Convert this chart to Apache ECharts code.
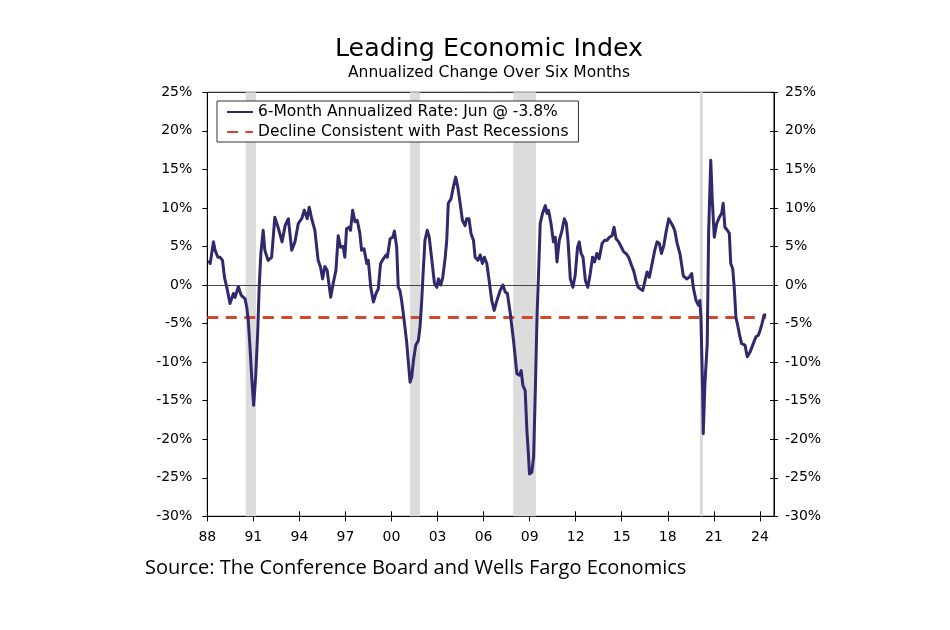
<!DOCTYPE html>
<html><head><meta charset="utf-8">
<script src="https://cdn.jsdelivr.net/npm/echarts@6/dist/echarts.min.js"></script>
<style>html,body{margin:0;padding:0;background:#fff}#c{width:950px;height:630px}</style>
</head><body><div id="c"></div>
<script>
const titleText = 'Leading Economic Index';
const subtitleText = 'Annualized Change Over Six Months';
const sourceText = 'Source: The Conference Board and Wells Fargo Economics';
const seriesNames = ['6-Month Annualized Rate: Jun @ -3.8%', 'Decline Consistent with Past Recessions'];

// decimal year of each reading
const leiDates = [
1988.08,1988.19,1988.40,1988.51,1988.69,1988.84,1988.99,1989.12,1989.27,1989.48,1989.70,1989.81,
1990.02,1990.20,1990.46,1990.57,1990.67,1990.78,1990.89,1991.02,1991.15,1991.28,1991.38,1991.49,
1991.64,1991.75,1991.96,1992.19,1992.40,1992.61,1992.87,1993.07,1993.28,1993.50,1993.71,1993.93,
1994.15,1994.32,1994.51,1994.64,1994.80,1995.01,1995.22,1995.38,1995.51,1995.66,1995.81,1996.04,
1996.20,1996.38,1996.53,1996.68,1996.85,1996.96,1997.07,1997.24,1997.33,1997.47,1997.62,1997.77,
1997.94,1998.05,1998.21,1998.39,1998.49,1998.65,1998.82,1998.99,1999.14,1999.29,1999.47,1999.65,
1999.73,1999.91,2000.08,2000.19,2000.34,2000.44,2000.55,2000.66,2000.77,2000.88,2000.99,2001.09,
2001.21,2001.32,2001.43,2001.58,2001.75,2001.86,2001.97,2002.07,2002.18,2002.33,2002.46,2002.63,
2002.80,2002.95,2003.06,2003.21,2003.34,2003.49,2003.60,2003.70,2003.88,2004.03,2004.18,2004.32,
2004.47,2004.62,2004.79,2004.90,2005.05,2005.18,2005.34,2005.45,2005.63,2005.78,2005.92,2006.05,
2006.21,2006.36,2006.53,2006.69,2006.87,2007.08,2007.26,2007.41,2007.55,2007.74,2007.95,2008.17,
2008.34,2008.45,2008.56,2008.71,2008.82,2008.92,2008.99,2009.14,2009.26,2009.37,2009.48,2009.58,
2009.69,2009.84,2010.02,2010.13,2010.23,2010.39,2010.55,2010.67,2010.78,2010.93,2011.11,2011.26,
2011.39,2011.50,2011.65,2011.82,2011.97,2012.12,2012.23,2012.35,2012.48,2012.63,2012.79,2012.95,
2013.10,2013.23,2013.38,2013.53,2013.72,2013.89,2014.04,2014.19,2014.37,2014.50,2014.63,2014.80,
2014.98,2015.13,2015.28,2015.45,2015.63,2015.77,2015.93,2016.07,2016.22,2016.37,2016.50,2016.65,
2016.80,2016.98,2017.15,2017.30,2017.45,2017.59,2017.74,2017.89,2018.06,2018.19,2018.32,2018.45,
2018.61,2018.80,2019.01,2019.23,2019.40,2019.56,2019.66,2019.84,2019.99,2020.09,2020.16,2020.27,
2020.31,2020.42,2020.57,2020.66,2020.80,2020.90,2021.03,2021.19,2021.36,2021.51,2021.61,2021.72,
2021.88,2022.01,2022.10,2022.23,2022.33,2022.44,2022.53,2022.70,2022.81,2023.03,2023.18,2023.36,
2023.57,2023.75,2023.90,2024.01,2024.14,2024.27,2024.40
];
// 6-month annualized rate, %
const leiValues = [
3.2,2.8,5.6,4.5,3.6,3.6,3.2,1.0,-0.3,-2.4,-1.1,-1.6,
-0.2,-1.3,-1.8,-2.9,-4.6,-8.0,-11.9,-15.6,-11.9,-6.3,-0.3,4.1,
7.1,4.5,3.2,3.6,8.8,7.5,5.6,7.7,8.6,4.5,5.6,8.0,
8.6,9.7,8.6,10.1,8.6,7.1,3.2,2.3,0.8,2.4,1.9,-1.6,
0.2,1.9,6.4,4.9,5.0,3.6,7.3,7.5,7.1,9.7,8.2,8.4,
6.7,4.5,4.7,2.8,3.2,-0.3,-2.2,-1.1,-0.5,2.8,3.4,3.9,
3.6,6.0,6.2,7.0,4.9,-0.3,-0.7,-2.0,-3.7,-3.9,-7.4,-9.8,
-12.6,-11.9,-9.8,-7.8,-7.2,-5.4,-2.0,1.9,5.8,7.1,6.2,3.2,
0.2,-0.3,0.8,0.0,1.0,3.4,5.8,10.6,11.2,12.7,14.0,12.7,
10.6,8.4,7.7,8.6,8.6,6.7,5.8,3.6,3.2,3.9,2.8,3.6,
2.8,0.6,-2.0,-3.3,-2.0,-0.7,0.0,-0.9,-1.1,-3.7,-7.2,-11.5,
-11.7,-11.1,-13.0,-13.7,-18.8,-21.9,-24.5,-24.3,-22.3,-13.7,-4.2,1.5,
8.0,9.3,10.3,9.3,9.7,8.0,5.6,6.2,3.0,5.8,7.1,8.6,
8.0,5.8,0.8,-0.3,1.3,4.9,5.6,4.1,3.6,0.6,-0.3,1.5,
3.6,3.0,4.1,3.4,5.4,5.8,5.8,6.2,6.4,7.5,6.0,5.6,
4.9,4.3,4.1,3.6,2.6,1.9,0.6,-0.3,-0.5,-0.7,0.4,1.7,
1.0,2.8,4.5,5.6,5.4,4.1,5.1,6.9,8.6,8.8,7.7,7.1,
5.4,4.0,1.2,0.8,1.0,1.5,-0.3,-2.0,-2.6,-2.0,-4.2,-13.7,
-19.3,-12.8,-7.6,6.7,16.2,11.0,6.2,8.0,8.8,9.3,10.6,7.5,
7.1,6.7,2.8,2.1,-0.3,-4.2,-5.0,-6.7,-7.6,-7.8,-9.3,-8.7,
-7.6,-6.7,-6.5,-5.9,-5.0,-3.9,-3.8
];
const thresholdValue = -4.2;
const thresholdDates = [1988.0, 2024.40];
const recessions = [[1990.50, 1991.17], [2001.21, 2001.86], [2007.93, 2009.41], [2020.09, 2020.29]];
const xTickYears = [1988,1991,1994,1997,2000,2003,2006,2009,2012,2015,2018,2021,2024];
const xMin = 1988, xMax = 2024.92;
const yMin = -30, yMax = 25, yStep = 5;

const NAVY = '#2E2A6B', RED = '#D4472C', FONT = 'DejaVu Sans';
const leiData = leiDates.map((d, i) => [d, leiValues[i]]);
const thrData = thresholdDates.map(d => [d, thresholdValue]);
const yearLabel = v => String(Math.round(v) % 100).padStart(2, '0');

const G = { left: 207.3, right: 176, top: 92.3, bottom: 113.7 };
const axisLineStyle = { color: '#000', width: 1 };
const chart = echarts.init(document.getElementById('c'), null, { renderer: 'canvas' });
chart.setOption({
  animation: false,
  backgroundColor: '#fff',
  graphic: [
    { type: 'text', style: { x: 489, y: 49, text: titleText, font: '25.3px "DejaVu Sans"', fill: '#000', textAlign: 'center', textVerticalAlign: 'middle' } },
    { type: 'text', style: { x: 489, y: 73, text: subtitleText, font: '15.5px "DejaVu Sans"', fill: '#000', textAlign: 'center', textVerticalAlign: 'middle' } },
    { type: 'text', style: { x: 145, y: 568, text: sourceText, font: '20px "Open Sans"', fill: '#000', textAlign: 'left', textVerticalAlign: 'middle' } }
  ],
  legend: {
    orient: 'vertical', left: 217, top: 101,
    padding: [3, 10, 2, 9], itemGap: 4, itemWidth: 26, itemHeight: 15,
    borderColor: '#333', borderWidth: 1, backgroundColor: '#fff',
    itemStyle: { opacity: 0 },
    textStyle: { fontFamily: FONT, fontSize: 15.5, color: '#000' },
    data: seriesNames
  },
  grid: [
    Object.assign({ show: true, borderColor: '#000', borderWidth: 1, backgroundColor: 'transparent' }, G),
    Object.assign({ show: false }, G)
  ],
  xAxis: [
    { type: 'value', gridIndex: 0, min: xMin, max: xMax, position: 'bottom',
      axisLine: { onZero: false, lineStyle: axisLineStyle }, splitLine: { show: false },
      axisTick: { inside: false, length: 5, lineStyle: axisLineStyle, customValues: xTickYears },
      axisLabel: { customValues: xTickYears, formatter: yearLabel, margin: 14, fontFamily: FONT, fontSize: 14, color: '#000' } },
    { type: 'value', gridIndex: 1, min: xMin, max: xMax, position: 'bottom',
      axisLine: { show: false, onZero: false }, splitLine: { show: false }, axisLabel: { show: false },
      axisTick: { inside: true, length: 5, lineStyle: axisLineStyle, customValues: xTickYears } }
  ],
  yAxis: [
    { type: 'value', gridIndex: 0, position: 'left', min: yMin, max: yMax, interval: yStep,
      axisLine: { show: true, onZero: false, lineStyle: axisLineStyle }, splitLine: { show: false },
      axisTick: { show: true, inside: false, length: 5, lineStyle: axisLineStyle },
      axisLabel: { formatter: '{value}%', margin: 15, fontFamily: FONT, fontSize: 14, color: '#000' } },
    { type: 'value', gridIndex: 0, position: 'right', min: yMin, max: yMax, interval: yStep,
      axisLine: { show: true, onZero: false, lineStyle: axisLineStyle }, splitLine: { show: false },
      axisTick: { show: true, inside: false, length: 4, lineStyle: axisLineStyle },
      axisLabel: { formatter: '{value}%', margin: 11, fontFamily: FONT, fontSize: 14, color: '#000' } },
    { type: 'value', gridIndex: 1, position: 'right', min: yMin, max: yMax, interval: yStep,
      axisLine: { show: false, onZero: false }, splitLine: { show: false }, axisLabel: { show: false },
      axisTick: { show: true, inside: true, length: 4, lineStyle: axisLineStyle } }
  ],
  series: [
    { name: seriesNames[0], type: 'line', xAxisIndex: 0, yAxisIndex: 0, data: leiData,
      symbol: 'none', z: 4, lineStyle: { color: NAVY, width: 3, join: 'round' }, itemStyle: { color: NAVY },
      markArea: { silent: true, z: 1, itemStyle: { color: '#DCDCDC' },
        data: recessions.map(r => [{ xAxis: r[0] }, { xAxis: r[1] }]) },
      markLine: { silent: true, z: 2, symbol: 'none', label: { show: false },
        lineStyle: { color: '#444', width: 1, type: 'solid' }, data: [{ yAxis: 0 }] } },
    { name: seriesNames[1], type: 'line', xAxisIndex: 0, yAxisIndex: 0, data: thrData,
      symbol: 'none', z: 3, lineStyle: { color: RED, width: 3, type: [11, 7.5] }, itemStyle: { color: RED } }
  ]
});
</script>
</body></html>
